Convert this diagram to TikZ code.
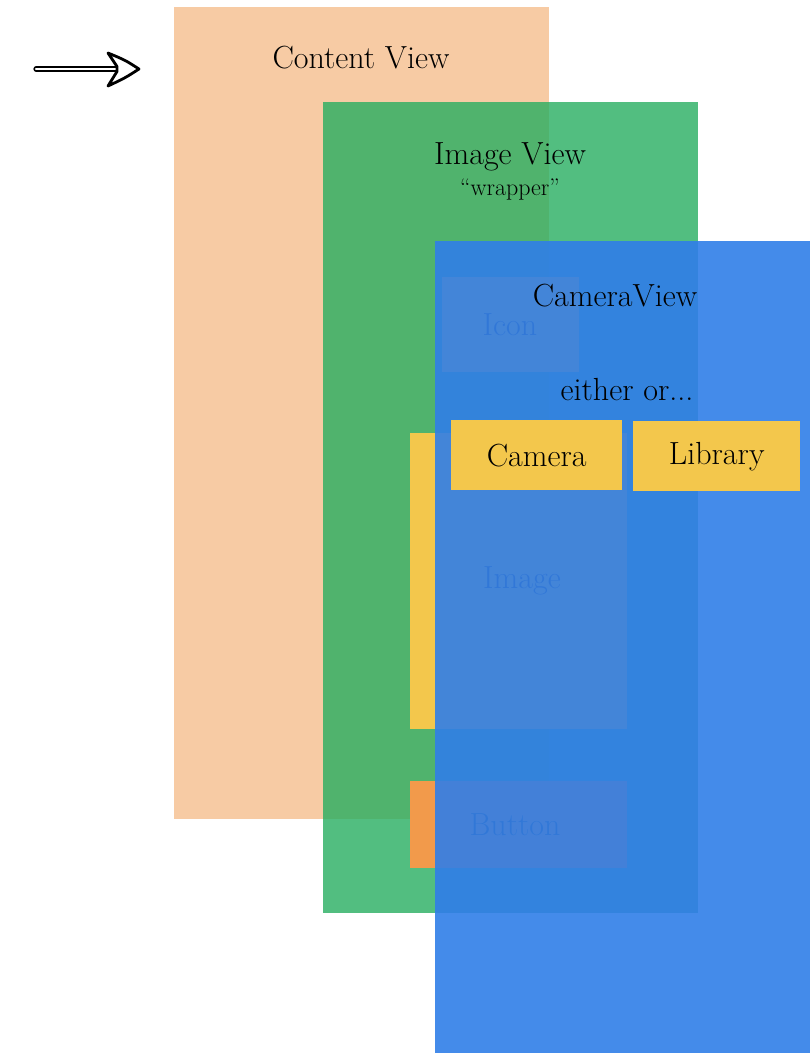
\documentclass[tikz,border=0pt]{standalone}
\definecolor{peach}{RGB}{247,203,164}
\definecolor{grn}{RGB}{39,174,96}
\definecolor{blu}{RGB}{48,126,232}
\definecolor{yel}{RGB}{243,199,76}
\definecolor{org}{RGB}{242,154,75}
\definecolor{lbl}{RGB}{64,64,64}
\tikzset{
  panel/.style={draw=none, inner sep=0pt, anchor=north west},
  title/.style={font=\fontsize{32}{34}\selectfont, text=black, inner sep=0pt},
  sub/.style={font=\fontsize{24}{26}\selectfont, text=black, inner sep=0pt},
  inner/.style={font=\fontsize{32}{34}\selectfont, text=lbl, inner sep=0pt},
}
\begin{document}
\begin{tikzpicture}[x=1pt,y=-1pt]
\useasboundingbox (0,0) rectangle (810,1053);
% containers
\node[panel, fill=peach, minimum width=375pt, minimum height=812pt] (content) at (174,7) {};
\node[title] (contentlbl) at (361,58) {Content View};
\node[panel, fill=grn, fill opacity=0.8, minimum width=375pt, minimum height=811pt] (image) at (323,102) {};
\node[title] (imagelbl) at (510,157) {Image View};
\node[sub] (wrap) at (510,190) {``wrapper''};
% inner items
\node[panel, fill=yel, minimum width=137pt, minimum height=95pt] (icon) at (442,277) {};
\node[inner] (iconlbl) at (510,325) {Icon};
\node[panel, fill=yel, minimum width=217pt, minimum height=296pt] (img) at (410,433) {};
\node[inner] (imglbl) at (522,581) {Image};
\node[panel, fill=org, minimum width=217pt, minimum height=87pt] (btn) at (410,781) {};
\node[inner] (btnlbl) at (515,825) {Button};
% camera view
\node[panel, fill=blu, fill opacity=0.9, minimum width=375pt, minimum height=812pt] (camview) at (435,241) {};
\node[title] (camlbl) at (615,296) {CameraView};
\node[title] (either) at (627,390) {either or...};
\node[panel, fill=yel, minimum width=171pt, minimum height=70pt] (camera) at (451,420) {};
\node[title] at (camera.center) {Camera};
\node[panel, fill=yel, minimum width=167pt, minimum height=70pt] (library) at (633,421) {};
\node[title] at (library.center) {Library};
% arrow
\coordinate (arrS) at (36,69);
\coordinate (arrE) at (117,69);
\coordinate (tip) at (139,69);
\draw[line width=1.4pt, double distance=2.4pt, line cap=round] (arrS) -- (arrE);
\draw[line width=2.8pt, line join=round, fill=white]
  (tip) .. controls (125,60) .. (108,53)
  .. controls (113,60) .. (117,66.5)
  -- (117,71.5)
  .. controls (113,78) .. (108,86)
  .. controls (125,78) .. cycle;
\end{tikzpicture}
\end{document}
